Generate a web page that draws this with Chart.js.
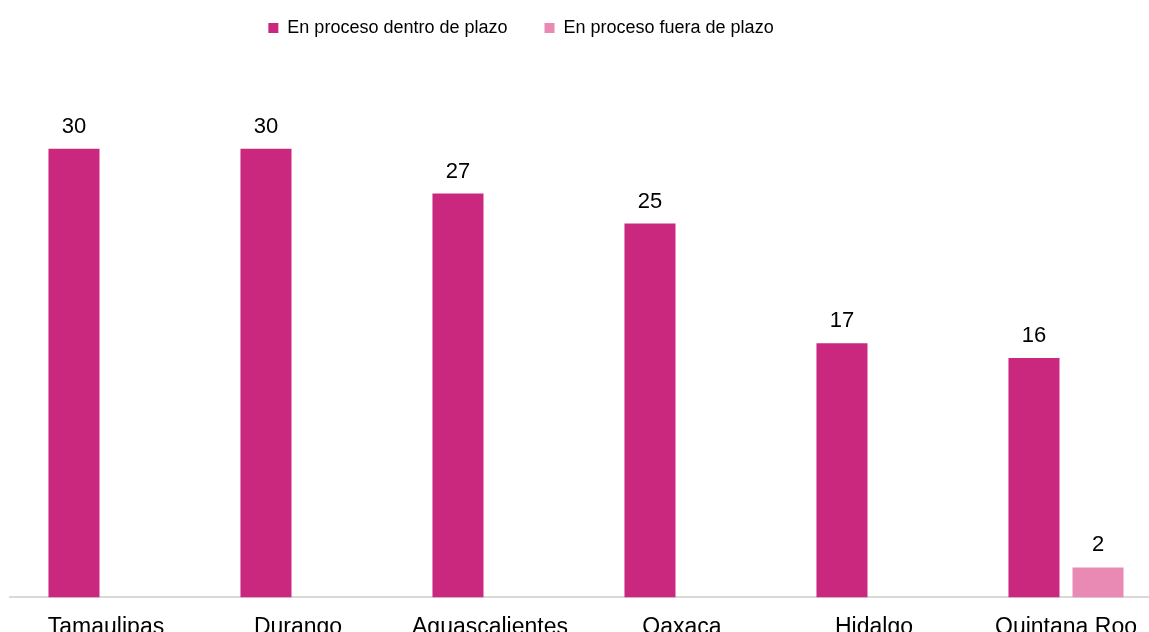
<!DOCTYPE html>
<html>
<head>
<meta charset="utf-8">
<script src="https://cdn.jsdelivr.net/npm/chart.js@4"></script>
<style>
  html, body { margin: 0; padding: 0; background: #fff; overflow: hidden; }
  #wrap { width: 1162px; height: 657px; position: relative; }
</style>
</head>
<body>
<div id="wrap"><canvas id="chart"></canvas></div>
<script>
const estados = ['Tamaulipas', 'Durango', 'Aguascalientes', 'Oaxaca', 'Hidalgo', 'Quintana Roo'];
const dentroPlazo = [30, 30, 27, 25, 17, 16];
const fueraPlazo = [null, null, null, null, null, 2];
const serieNames = ['En proceso dentro de plazo', 'En proceso fuera de plazo'];

const fontFamily = '"Liberation Sans", Arial, sans-serif';
const legendShiftX = -65; // legend sits left of centre in the original
const legendShiftY = -18;

// numbers above each bar
const valueLabels = {
    id: 'valueLabels',
    afterDatasetsDraw(chart) {
        const ctx = chart.ctx;
        ctx.save();
        ctx.font = '22px ' + fontFamily;
        ctx.fillStyle = '#000';
        ctx.textAlign = 'center';
        ctx.textBaseline = 'alphabetic';
        chart.data.datasets.forEach((ds, i) => {
            chart.getDatasetMeta(i).data.forEach((bar, j) => {
                const v = ds.data[j];
                if (v == null) return;
                ctx.fillText(String(v), bar.x, bar.y - 16);
            });
        });
        ctx.restore();
    }
};

const moveLegend = {
    id: 'moveLegend',
    afterLayout(chart) {
        const lg = chart.legend;
        lg.left += legendShiftX;
        lg.right += legendShiftX;
        lg.top += legendShiftY;
        lg.bottom += legendShiftY;
    }
};

const ctx = document.getElementById('chart').getContext('2d');
const chart = new Chart(ctx, {
    type: 'bar',
    data: {
        labels: estados,
        datasets: [
            {
                label: serieNames[0],
                data: dentroPlazo,
                backgroundColor: '#C9287E'
            },
            {
                label: serieNames[1],
                data: fueraPlazo,
                backgroundColor: '#E98AB5'
            }
        ]
    },
    options: {
        responsive: true,
        maintainAspectRatio: false,
        animation: false,
        categoryPercentage: 0.667,
        barPercentage: 0.797,
        layout: {
            padding: { top: 0, left: 10, right: 0, bottom: 0 }
        },
        plugins: {
            tooltip: { enabled: false },
            legend: {
                position: 'top',
                labels: {
                    boxWidth: 10,
                    boxHeight: 10,
                    padding: 37,
                    color: '#000',
                    font: { family: fontFamily, size: 18 }
                }
            }
        },
        scales: {
            x: {
                grid: { display: false, drawTicks: false },
                border: { display: true, color: '#D9D9D9', width: 2 },
                ticks: {
                    color: '#000',
                    padding: 16,
                    maxRotation: 0,
                    font: { family: fontFamily, size: 23 }
                }
            },
            y: {
                display: false,
                min: 0,
                max: 35.6
            }
        }
    },
    plugins: [valueLabels, moveLegend]
});
</script>
</body>
</html>
